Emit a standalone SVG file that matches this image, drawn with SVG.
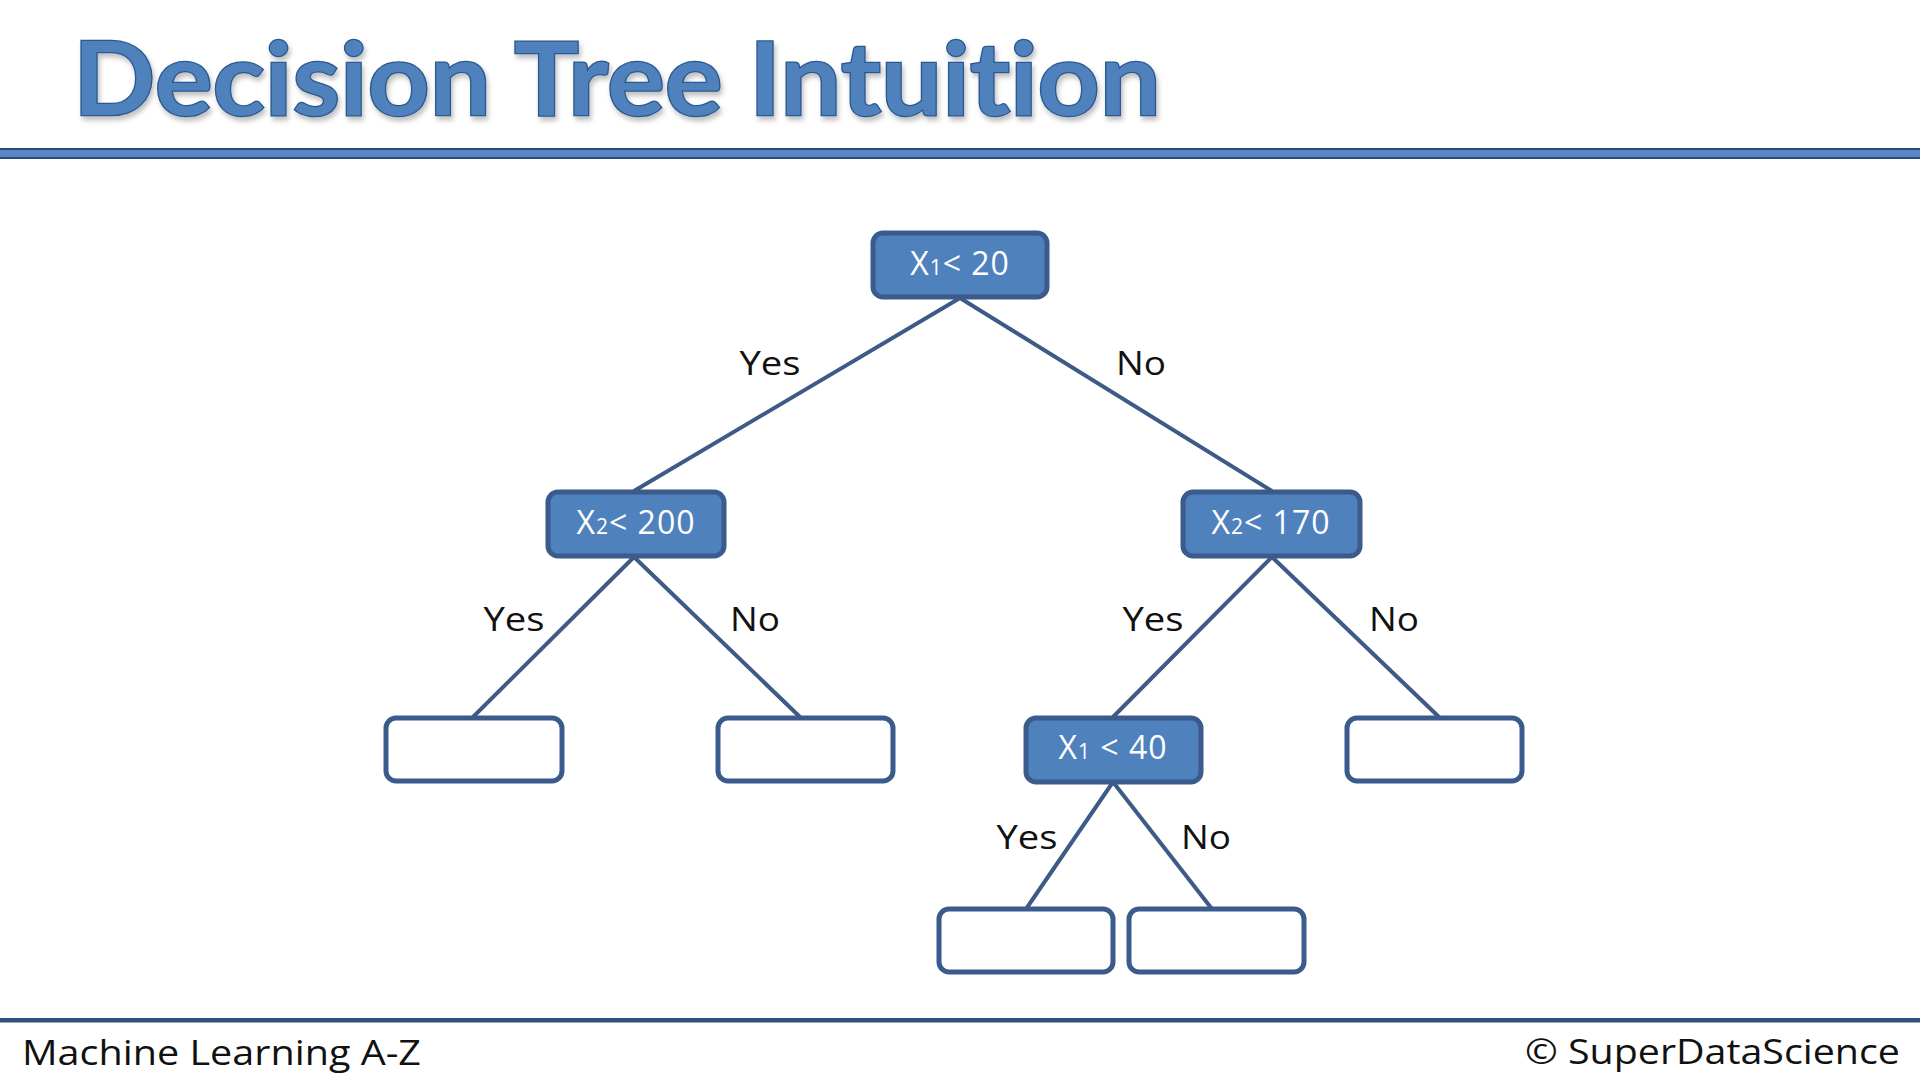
<svg xmlns="http://www.w3.org/2000/svg" width="1920" height="1080" viewBox="0 0 1920 1080">
  <defs>
    <filter id="titleShadow" x="-5%" y="-20%" width="110%" height="150%">
      <feDropShadow dx="2" dy="4" stdDeviation="2.5" flood-color="#000" flood-opacity="0.25"/>
    </filter>
  </defs>
  <style>
    .title { font-family: Lato, "Liberation Sans", sans-serif; font-weight: 700; font-size: 101px; font-variant-ligatures: none; fill: #4f81bd; stroke: #2c5890; stroke-width: 2.5px; paint-order: stroke; }
    .decision rect { fill: #4f81bd; stroke: #3b5b8c; stroke-width: 5; }
    .leaf rect { fill: #ffffff; stroke: #3b5b8c; stroke-width: 5; }
    .decision text { font-family: "Open Sans", "Liberation Sans", sans-serif; font-size: 32px; letter-spacing: 1px; fill: #ffffff; text-anchor: middle; }
    .decision tspan.sub { font-size: 21px; }
    .edge { stroke: #3e5a86; stroke-width: 4; fill: none; }
    .label { font-family: "Open Sans", "Liberation Sans", sans-serif; font-size: 33px; fill: #111111; text-anchor: middle; }
    .footer { font-family: "Open Sans", "Liberation Sans", sans-serif; font-size: 34px; fill: #111111; }
  </style>

  <rect x="0" y="0" width="1920" height="1080" fill="#ffffff"/>

  <!-- heading -->
  <text class="title" x="73" y="115" textLength="1088" lengthAdjust="spacingAndGlyphs" filter="url(#titleShadow)">Decision Tree Intuition</text>
  <rect x="-2" y="149" width="1924" height="9" fill="#5b87c9" stroke="#2a4d7a" stroke-width="2"/>

  <!-- connectors -->
  <g id="connectors">
    <line class="edge" x1="960" y1="298" x2="634" y2="491"/>
    <line class="edge" x1="960" y1="298" x2="1272" y2="491"/>
    <line class="edge" x1="634" y1="557" x2="473" y2="717"/>
    <line class="edge" x1="634" y1="557" x2="800" y2="717"/>
    <line class="edge" x1="1272" y1="557" x2="1113" y2="717"/>
    <line class="edge" x1="1272" y1="557" x2="1439" y2="717"/>
    <line class="edge" x1="1113" y1="782" x2="1026" y2="909"/>
    <line class="edge" x1="1113" y1="782" x2="1212" y2="909"/>
    <text class="label" x="770" y="375" textLength="61" lengthAdjust="spacingAndGlyphs">Yes</text>
    <text class="label" x="1141" y="375" textLength="50" lengthAdjust="spacingAndGlyphs">No</text>
    <text class="label" x="514" y="631" textLength="61" lengthAdjust="spacingAndGlyphs">Yes</text>
    <text class="label" x="755" y="631" textLength="50" lengthAdjust="spacingAndGlyphs">No</text>
    <text class="label" x="1153" y="631" textLength="61" lengthAdjust="spacingAndGlyphs">Yes</text>
    <text class="label" x="1394" y="631" textLength="50" lengthAdjust="spacingAndGlyphs">No</text>
    <text class="label" x="1027" y="849" textLength="61" lengthAdjust="spacingAndGlyphs">Yes</text>
    <text class="label" x="1206" y="849" textLength="50" lengthAdjust="spacingAndGlyphs">No</text>
  </g>

  <!-- decision nodes -->
  <g id="node-root" class="decision">
    <rect x="873" y="233" width="174" height="64" rx="10"/>
    <text x="960" y="275">X<tspan class="sub">1</tspan>&lt; 20</text>
  </g>
  <g id="node-x2-200" class="decision">
    <rect x="548" y="492" width="176" height="64" rx="10"/>
    <text x="636" y="534">X<tspan class="sub">2</tspan>&lt; 200</text>
  </g>
  <g id="node-x2-170" class="decision">
    <rect x="1183" y="492" width="177" height="64" rx="10"/>
    <text x="1271" y="534">X<tspan class="sub">2</tspan>&lt; 170</text>
  </g>
  <g id="node-x1-40" class="decision">
    <rect x="1026" y="718" width="175" height="64" rx="10"/>
    <text x="1113" y="759">X<tspan class="sub">1</tspan> &lt; 40</text>
  </g>

  <!-- leaf nodes -->
  <g id="leaf-1" class="leaf">
    <rect x="386" y="718" width="176" height="63" rx="10"/>
  </g>
  <g id="leaf-2" class="leaf">
    <rect x="718" y="718" width="175" height="63" rx="10"/>
  </g>
  <g id="leaf-3" class="leaf">
    <rect x="1347" y="718" width="175" height="63" rx="10"/>
  </g>
  <g id="leaf-4" class="leaf">
    <rect x="939" y="909" width="174" height="63" rx="10"/>
  </g>
  <g id="leaf-5" class="leaf">
    <rect x="1129" y="909" width="175" height="63" rx="10"/>
  </g>

  <!-- footer -->
  <rect x="0" y="1018" width="1920" height="4.5" fill="#34507a"/>
  <text class="footer" x="22" y="1065" textLength="399" lengthAdjust="spacingAndGlyphs">Machine Learning A-Z</text>
  <text class="footer" x="1525" y="1064" textLength="375" lengthAdjust="spacingAndGlyphs">© SuperDataScience</text>
</svg>
